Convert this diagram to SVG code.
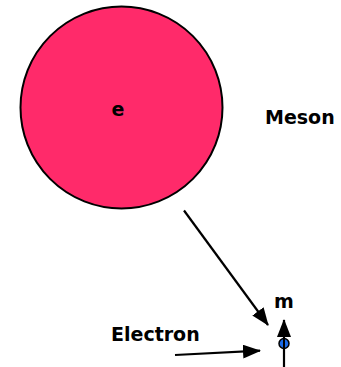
<svg xmlns="http://www.w3.org/2000/svg" width="341" height="367" viewBox="0 0 341 367">
<style>
.t{font-family:"DejaVu Sans",Verdana,sans-serif;font-weight:bold;font-size:19px;fill:#000}
.c{stroke:#000;stroke-width:2.2;fill:none}
</style>
<defs>
<marker id="ah" markerWidth="10" markerHeight="10" refX="8" refY="5" orient="auto" markerUnits="userSpaceOnUse" viewBox="0 0 10 10">
<path d="M0,0 L10,5 L0,10 z" fill="#000"/>
</marker>
<marker id="ahb" markerWidth="18" markerHeight="14" refX="17" refY="7" orient="auto" markerUnits="userSpaceOnUse" viewBox="0 0 18 14">
<path d="M0,0 L18,7 L0,14 z" fill="#000"/>
</marker>
</defs>
<rect width="341" height="367" fill="#fff"/>
<g id="meson">
<circle cx="121.5" cy="107.5" r="101" fill="#ff2a6a" stroke="#000" stroke-width="2"/>
<text class="t" x="118" y="115.5" text-anchor="middle">e</text>
</g>
<g id="meson-label"><text class="t" x="265" y="123.5">Meson</text></g>
<g id="electron-label"><text class="t" x="111" y="341">Electron</text></g>
<g id="m-label"><text class="t" x="284" y="307.5" text-anchor="middle">m</text></g>
<g id="connectors">
<line class="c" x1="184" y1="210.5" x2="268" y2="325" marker-end="url(#ahb)"/>
<line class="c" x1="175" y1="355" x2="260" y2="350.7" marker-end="url(#ahb)"/>
<line class="c" x1="284" y1="367" x2="284" y2="320" marker-end="url(#ahb)"/>
</g>
<g id="particle">
<circle cx="284" cy="343.5" r="5" fill="#1a6ae8" stroke="#000" stroke-width="1.5"/>
<line x1="284" y1="338" x2="284" y2="349" stroke="#000" stroke-width="2"/>
</g>
</svg>
